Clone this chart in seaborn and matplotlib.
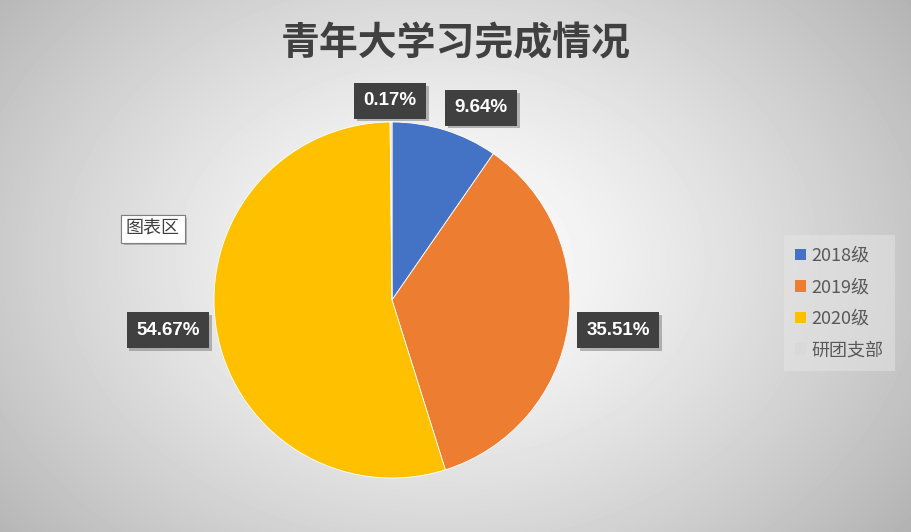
import numpy as np
import matplotlib
matplotlib.use('Agg')
import matplotlib.pyplot as plt
import matplotlib.patheffects as pe
from matplotlib.patches import Patch
import seaborn as sns

# données
categories = ['2018级', '2019级', '2020级', '研团支部']
valeurs = [9.64, 35.51, 54.67, 0.17]
couleurs = ['#4472C4', '#ED7D31', '#FFC000', '#D9D9D9']
titre = '青年大学习完成情况'

# positions des étiquettes (coord. axes du camembert)
label_pos = [(0.50, 1.08), (1.27, -0.17), (-1.26, -0.17), (-0.01, 1.12)]

sns.set_theme(style='white')
plt.rcParams['font.family'] = ['Noto Sans CJK SC', 'DejaVu Sans']

fig = plt.figure(figsize=(9.12, 5.32), dpi=100)

# fond en dégradé radial
bg = fig.add_axes([0, 0, 1, 1])
yy, xx = np.mgrid[0:532, 0:912]
d = np.sqrt(((xx - 440) / 560.0) ** 2 + ((yy - 260) / 420.0) ** 2)
g = np.clip(1.0 - 0.28 * d ** 1.3, 0, 1)
bg.imshow(g, cmap='gray', vmin=0, vmax=1, extent=[0, 1, 0, 1], aspect='auto')
bg.set_axis_off()

# camembert
r_x = 178 / 912
r_y = 178 / 532
cx, cy = 392 / 912, (532 - 300) / 532
ax = fig.add_axes([cx - r_x, cy - r_y, 2 * r_x, 2 * r_y])
wedges, _ = ax.pie(valeurs, colors=couleurs, startangle=90, counterclock=False,
                   wedgeprops=dict(edgecolor='white', linewidth=0.6))
ax.set_xlim(-1, 1)
ax.set_ylim(-1, 1)
ax.set_aspect('equal')
ax.set_axis_off()

for v, (x, y) in zip(valeurs, label_pos):
    t = ax.text(x, y, f'{v:.2f}%', ha='center', va='center', color='white',
                fontsize=13.5, fontweight='bold', family=['Liberation Sans', 'DejaVu Sans'],
                bbox=dict(boxstyle='square,pad=0.5', fc='#404040', ec='none'),
                clip_on=False)
    t.get_bbox_patch().set_path_effects([
        pe.withSimplePatchShadow(offset=(2, -2), shadow_rgbFace='#777777', alpha=0.5),
        pe.Normal()])

# titre
fig.text(0.5, 1 - 44 / 532, titre, ha='center', va='center', fontsize=28,
         color='#404040', fontweight='bold')

# légende
handles = [Patch(facecolor=c, edgecolor='none') for c in couleurs]
leg = fig.legend(handles, categories, loc='center left',
                 bbox_to_anchor=(789 / 912, 1 - 303 / 532), frameon=True,
                 fontsize=13, handlelength=0.6, handleheight=0.6, handletextpad=0.3,
                 labelspacing=0.75, borderpad=0.35, borderaxespad=0,
                 labelcolor='#595959')
leg.get_frame().set_facecolor('#e6e6e6')
leg.get_frame().set_alpha(0.5)
leg.get_frame().set_edgecolor('none')
leg.get_frame().set_boxstyle('square')

# info-bulle
tip = fig.text(153 / 912, 1 - 229 / 532, '图表区', ha='center', va='center',
               fontsize=13, color='#404040',
               bbox=dict(boxstyle='square,pad=0.25', fc='white', ec='#7f7f7f', lw=0.8))
tip.get_bbox_patch().set_path_effects([
    pe.withSimplePatchShadow(offset=(2, -2), shadow_rgbFace='#888888', alpha=0.5),
    pe.Normal()])

plt.savefig('out.png', dpi=100)
